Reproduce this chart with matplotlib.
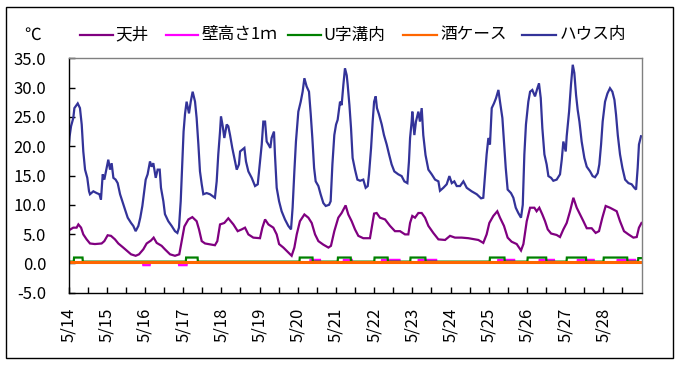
import matplotlib
matplotlib.use("Agg")
import matplotlib.pyplot as plt
from matplotlib.lines import Line2D
from matplotlib.patches import Rectangle

plt.rcParams['font.family'] = ['Noto Sans CJK JP', 'DejaVu Sans']

# ---------------- data (hours from 5/14 00:00) ----------------
series_names = ["天井", "壁高さ1ｍ", "U字溝内", "酒ケース", "ハウス内"]
series_colors = ["#800080", "#FF00FF", "#008000", "#FF6600", "#333399"]
date_labels = ["5/14", "5/15", "5/16", "5/17", "5/18", "5/19", "5/20", "5/21",
               "5/22", "5/23", "5/24", "5/25", "5/26", "5/27", "5/28"]

house_h = [0, 0.7, 1.6, 3.0, 3.7, 5.8, 7.2, 8.3, 9.3, 10.4, 11.8, 12.9, 13.5, 15.6, 17.7, 19.4, 20.4,
           21.5, 22.5, 24.0, 25.0, 26.1, 27.1, 28.2, 29.6, 30.9, 32.4, 33.8, 35.5, 37.2, 39.3, 40.7,
           42.2, 43.9, 45.1, 46.4, 47.6, 48.5, 49.7, 51.2, 52.2, 53.3, 54.8, 56.0, 57.3, 58.1, 59.6,
           60.6, 62.7, 64.8, 66.9, 68.4, 69.4, 70.5, 71.5, 72.3, 73.2, 74.2, 75.7, 76.8, 78.0, 79.5,
           80.5, 81.6, 82.6, 83.7, 84.7, 86.8, 88.9, 92.0, 93.1, 94.1, 95.2, 95.8, 96.9, 97.9, 99.4,
           100.4, 101.5, 102.9, 104.2, 105.7, 107.1, 107.8, 109.2, 110.5, 111.5, 113.0, 115.1, 117.2,
           118.9, 120.3, 121.4, 122.4, 123.5, 124.5, 125.6, 126.8, 127.6, 129.1, 129.7, 130.8, 132.3,
           133.9, 136.0, 138.1, 139.8, 140.8, 141.9, 142.9, 144.4, 145.9, 147.1, 148.2, 149.6, 151.1,
           152.2, 153.2, 154.3, 155.3, 157.0, 158.4, 160.1, 161.6, 163.7, 164.7, 165.8, 167.0, 168.1,
           169.1, 170.6, 171.6, 172.7, 173.7, 174.8, 175.4, 176.5, 177.5, 178.5, 180.0, 181.5, 183.2,
           185.2, 186.7, 188.0, 188.8, 190.1, 191.1, 192.0, 193.0, 193.8, 195.1, 196.8, 198.2, 199.9,
           201.4, 203.0, 204.7, 207.2, 209.3, 211.0, 212.9, 213.9, 214.6, 215.6, 216.0, 217.3, 218.3,
           219.8, 220.8, 221.9, 222.9, 224.3, 226.1, 228.2, 230.3, 232.4, 233.4, 235.5, 237.6, 239.3,
           240.8, 242.4, 243.9, 246.0, 248.1, 250.2, 253.3, 256.5, 259.2, 260.6, 261.7, 262.7, 263.8,
           264.8, 265.9, 267.3, 268.6, 270.1, 271.1, 272.6, 273.6, 274.7, 275.9, 278.0, 279.5, 281.0,
           282.6, 284.3, 285.4, 286.4, 287.4, 288.9, 290.0, 291.4, 293.1, 294.6, 295.6, 296.7, 297.7,
           299.0, 300.4, 301.5, 303.2, 304.6, 306.7, 308.8, 309.9, 310.9, 312.4, 313.0, 314.5, 315.7,
           316.8, 317.8, 318.9, 319.9, 321.0, 322.4, 324.1, 325.6, 327.7, 329.3, 330.8, 332.5, 333.5,
           334.6, 335.6, 337.1, 338.6, 340.2, 341.7, 343.0, 344.0, 345.1, 346.5, 348.0, 349.7, 351.8,
           353.8, 355.5, 356.6, 357.6, 358.4, 359.7]
house_v = [19.4, 21.7, 23.4, 24.8, 26.5, 27.3, 26.5, 23.7, 19.1, 16.0, 14.6, 12.3, 11.8, 12.3, 12.0, 11.8, 10.9,
           15.2, 14.3, 16.3, 17.7, 16.0, 17.1, 14.6, 14.3, 13.7, 11.8, 10.6, 9.2, 7.8, 6.9, 6.4,
           5.5, 6.4, 7.8, 9.8, 12.3, 14.3, 15.2, 17.4, 16.5, 17.1, 14.6, 16.0, 16.0, 12.9, 10.6,
           8.4, 7.2, 6.4, 5.5, 5.2, 6.1, 10.6, 17.4, 22.5, 25.5, 27.6, 25.6, 27.6, 29.3, 27.6,
           24.8, 20.3, 15.7, 13.5, 11.8, 12.0, 11.8, 11.2, 14.0, 18.6, 22.5, 25.1, 23.4, 21.4, 23.7,
           23.4, 21.9, 19.7, 18.0, 16.0, 16.9, 19.1, 19.4, 19.7, 17.4, 15.7, 14.6, 13.2,
           13.5, 17.4, 20.3, 24.2, 24.2, 20.8, 20.3, 19.7, 21.4, 22.5, 18.6, 12.9, 10.6,
           8.9, 7.5, 6.4, 5.8, 9.5, 15.7, 20.8, 25.9, 27.6, 29.3, 31.6, 30.2, 29.3,
           25.4, 21.4, 16.3, 14.0, 13.2, 11.8, 10.3, 9.8, 10.0, 10.6, 16.9, 21.9, 23.7,
           24.5, 27.6, 27.0, 30.5, 33.3, 32.1, 30.5, 27.0, 23.1, 18.0, 16.0, 14.3, 14.1,
           14.3, 12.9, 13.2, 15.2, 19.7, 24.2, 27.6, 28.5, 26.5, 25.4, 23.7, 21.9, 20.3,
           18.6, 16.9, 15.7, 15.2, 14.9, 14.0, 13.7, 17.4, 21.4, 24.2, 25.9, 21.9, 24.2,
           25.9, 24.2, 26.5, 21.9, 18.5, 16.0, 15.2, 14.3, 14.0, 12.4, 12.9, 13.5, 14.9,
           13.7, 14.0, 13.2, 13.2, 14.0, 12.9, 12.3, 11.8, 11.1, 11.2, 15.2, 18.6, 21.4,
           20.3, 26.5, 27.3, 28.2, 29.6, 27.6, 24.8, 20.8, 16.3, 12.6, 12.0, 11.2, 9.5,
           8.6, 7.8, 10.0, 18.6, 23.7, 27.6, 29.3, 29.6, 28.5, 29.9, 30.7, 28.2, 23.1,
           18.6, 16.9, 14.9, 14.6, 14.1, 14.3, 15.2, 17.7, 20.8, 19.1, 21.7, 25.9, 30.5,
           33.9, 32.5, 28.7, 26.2, 24.2, 20.8, 18.0, 16.5, 15.7, 14.9, 14.7, 15.4, 16.9,
           20.3, 24.2, 27.6, 29.0, 29.9, 29.3, 27.9, 25.4, 21.9, 18.6, 16.3, 14.3, 13.7,
           13.5, 12.9, 12.6, 16.3, 20.3, 21.7]

ceil_h = [0, 3.0, 5.1, 6.2, 7.9, 9.3, 11.4, 13.5, 16.6, 20.8, 22.5, 24.6, 26.7, 29.2, 31.3, 34.4,
          36.5, 39.3, 42.2, 44.3, 47.0, 49.1, 51.8, 53.5, 55.4, 58.5, 60.6, 63.8, 66.9, 69.6, 71.1,
          72.8, 75.3, 77.8, 80.5, 82.0, 83.7, 85.8, 92.0, 93.5, 95.2, 97.9, 100.4, 103.6, 106.3,
          108.8, 110.9, 113.0, 116.1, 120.3, 121.8, 123.5, 125.6, 128.7, 130.8, 132.3, 135.0, 138.1,
          140.2, 141.9, 143.4, 145.4, 148.2, 150.7, 152.8, 154.9, 157.0, 160.1, 163.3, 164.9, 167.0,
          169.5, 171.6, 174.1, 175.8, 177.9, 180.0, 182.1, 185.2, 189.4, 190.5, 192.0, 193.6, 195.7,
          198.9, 202.0, 205.1, 208.3, 211.4, 213.5, 214.6, 216.0, 217.7, 219.8, 221.9, 224.0, 226.1,
          229.2, 232.4, 236.6, 239.7, 242.8, 247.0, 251.2, 257.5, 260.6, 262.7, 264.4, 266.9, 269.4,
          271.1, 273.6, 275.9, 278.4, 281.6, 284.3, 285.8, 287.9, 290.0, 292.7, 294.1, 295.8, 297.7,
          299.4, 301.1, 303.2, 306.7, 308.8, 310.9, 313.0, 315.1, 317.2, 319.3, 321.4, 323.5, 325.6,
          328.7, 331.2, 333.3, 335.4, 337.5, 340.2, 342.3, 344.4, 346.5, 349.0, 351.8, 354.9, 357.0,
          358.4, 360.0]
ceil_v = [5.6, 6.1, 6.1, 6.65, 6.1, 4.95, 4.1, 3.4, 3.3, 3.4, 3.8, 4.8, 4.7, 4.1, 3.4, 2.7,
          2.2, 1.55, 1.3, 1.55, 2.4, 3.4, 3.9, 4.4, 3.5, 3.0, 2.4, 1.55, 1.3, 1.55, 3.8,
          6.3, 7.5, 7.9, 7.2, 5.8, 3.8, 3.4, 3.1, 3.8, 6.65, 6.9, 7.7, 6.65, 5.5,
          5.8, 6.1, 4.95, 4.4, 4.3, 6.1, 7.5, 6.65, 6.1, 4.95, 3.3, 2.7, 1.85,
          1.3, 2.7, 4.95, 7.2, 8.35, 7.8, 6.9, 4.95, 3.8, 3.2, 2.7, 3.0, 5.5,
          7.8, 8.6, 9.9, 8.35, 7.2, 5.8, 4.7, 4.3, 4.3, 6.1, 8.5, 8.6, 7.8,
          7.5, 6.4, 5.5, 5.5, 4.95, 4.95, 6.9, 8.1, 7.8, 8.6, 8.6, 7.8, 6.4,
          5.2, 4.1, 4.0, 4.7, 4.4, 4.4, 4.3, 4.0, 3.5, 4.95, 6.9, 8.1, 8.9,
          7.8, 6.4, 4.4, 3.7, 3.3, 2.2, 3.3, 7.2, 9.5, 9.5, 8.9, 9.5, 8.35,
          7.2, 5.8, 5.1, 4.85, 4.5, 5.8, 6.9, 8.9, 11.2, 9.5, 8.35, 7.2, 6.0,
          6.0, 5.2, 5.5, 7.8, 9.8, 9.5, 9.2, 8.9, 7.2, 5.5, 4.95, 4.4, 4.5,
          6.1, 6.9]

wall_h = [0, 46.8, 47.0, 51.0, 51.2, 69.3, 69.5, 74.2, 74.4, 151.8, 152.0, 158.0, 158.2,
          172.8, 173.0, 178.0, 178.2, 196.8, 197.0, 208.0, 208.2, 219.8, 220.0, 231.0, 231.2,
          269.8, 270.0, 280.0, 280.2, 295.8, 296.0, 305.0, 305.2, 319.8, 320.0, 330.0, 330.2,
          344.8, 345.0, 356.0, 356.2, 360.0]
wall_v = [0.1, 0.1, -0.3, -0.3, 0.1, 0.1, -0.3, -0.3, 0.1, 0.1, 0.6, 0.6, 0.1,
          0.1, 0.6, 0.6, 0.1, 0.1, 0.6, 0.6, 0.1, 0.1, 0.6, 0.6, 0.1,
          0.1, 0.6, 0.6, 0.1, 0.1, 0.6, 0.6, 0.1, 0.1, 0.6, 0.6, 0.1,
          0.1, 0.6, 0.6, 0.1, 0.1]

ditch_h = [0, 3.3, 3.5, 8.8, 9.0, 73.7, 73.9, 81.1, 81.3, 145.1, 145.3, 153.3, 153.5,
           169.1, 169.3, 177.3, 177.5, 192.1, 192.3, 200.5, 200.7, 214.7, 214.9, 224.2, 224.4,
           264.6, 264.8, 273.9, 274.1, 288.3, 288.5, 300.1, 300.3, 312.9, 313.1, 325.1, 325.3,
           336.1, 336.3, 351.0, 351.2, 357.8, 358.0, 360.0]
ditch_v = [0.3, 0.3, 1.0, 1.0, 0.3, 0.3, 1.0, 1.0, 0.3, 0.3, 1.0, 1.0, 0.3,
           0.3, 1.0, 1.0, 0.3, 0.3, 1.0, 1.0, 0.3, 0.3, 1.0, 1.0, 0.3,
           0.3, 1.0, 1.0, 0.3, 0.3, 1.0, 1.0, 0.3, 0.3, 1.0, 1.0, 0.3,
           0.3, 1.0, 1.0, 0.3, 0.3, 0.9, 0.9]

sake_h = [0, 60, 120, 180, 240, 300, 360]
sake_v = [0.3, 0.3, 0.3, 0.3, 0.3, 0.3, 0.3]

y_ticks = [-5, 0, 5, 10, 15, 20, 25, 30, 35]

# ---------------- figure ----------------
W, H = 681, 367
fig = plt.figure(figsize=(W / 100, H / 100), dpi=100)
fig.patch.set_facecolor("white")

ax_l, ax_r, ax_t, ax_b = 68.5, 641.5, 58.3, 292.7
ax = fig.add_axes([ax_l / W, 1 - ax_b / H, (ax_r - ax_l) / W, (ax_b - ax_t) / H])

xs = [ceil_h, wall_h, ditch_h, sake_h, house_h]
ys = [ceil_v, wall_v, ditch_v, sake_v, house_v]
lws = [1.6, 1.6, 1.6, 2.2, 1.6]
for x, y, c, lw, name in zip(xs, ys, series_colors, lws, series_names):
    ax.plot(x, y, color=c, lw=lw, label=name, solid_joinstyle="miter")

ax.set_xlim(0, 360)
ax.set_ylim(-5, 35)
ax.set_yticks(y_ticks)
ax.set_yticklabels([f"{v:.1f}" for v in y_ticks])
xt = list(range(0, 360, 12))
ax.set_xticks(xt)
ax.set_xticklabels([date_labels[i // 24] if i % 24 == 0 else "" for i in xt], rotation=90)

ax.tick_params(axis="both", direction="in", length=4.5, width=1, color="black",
               labelsize=12, labelcolor="black")
ax.tick_params(axis="y", pad=16)
ax.tick_params(axis="x", pad=11)
ax.tick_params(top=False, right=False)

for s in ["left", "bottom"]:
    ax.spines[s].set_color("black")
    ax.spines[s].set_linewidth(1.0)
for s in ["top", "right"]:
    ax.spines[s].set_color("#808080")
    ax.spines[s].set_linewidth(1.0)

# legend (manual, top row)
leg_y = 1 - 35 / H
line_x = [(80, 113), (166, 198), (288, 321), (403, 437), (522, 556)]
text_x = [115.5, 201.5, 323.5, 440.5, 560]
for (x0, x1), tx, c, name in zip(line_x, text_x, series_colors, series_names):
    fig.add_artist(Line2D([x0 / W, x1 / W], [leg_y, leg_y], color=c, lw=1.6,
                          transform=fig.transFigure))
    fig.text(tx / W, leg_y, name, ha="left", va="center", fontsize=12, color="black")

fig.text(33 / W, leg_y, "℃", ha="center", va="center", fontsize=12, color="black")

# outer frame
fig.add_artist(Rectangle((6 / W, 1 - 358 / H), (673 - 6) / W, (358 - 7) / H,
                         fill=False, edgecolor="black", lw=1.0, transform=fig.transFigure))

fig.savefig("out.png", dpi=100, facecolor="white")
